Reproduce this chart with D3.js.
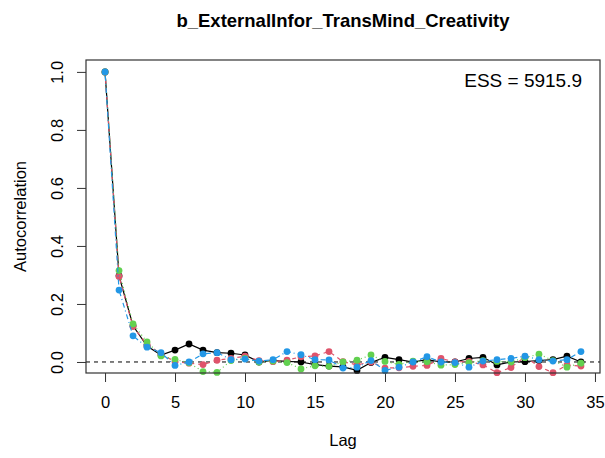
<!DOCTYPE html>
<html>
<head>
<meta charset="utf-8">
<script src="https://cdn.jsdelivr.net/npm/d3@7"></script>
<style>
  body { margin: 0; background: #fff; }
  text { font-family: "Liberation Sans", Arial, sans-serif; fill: #000; }
</style>
</head>
<body>
<div id="chart"></div>
<script>
var svgWidth = 605;
var svgHeight = 458;

var lags = d3.range(0, 35);

var chainBlack = [1, 0.297, 0.125, 0.055, 0.024, 0.041, 0.062, 0.041, 0.032, 0.030, 0.024, 0.000, 0.005, 0.002, 0.000,
  -0.009, -0.014, -0.017, -0.029, -0.002, 0.016, 0.008, 0.000, 0.008, 0.000, 0.000, 0.012, 0.016, -0.010, 0.000,
  0.001, 0.005, 0.008, 0.020, 0.000];
var chainRed = [1, 0.295, 0.122, 0.060, 0.028, 0.001, -0.004, -0.009, 0.006, 0.012, 0.020, 0.005, 0.001, 0.006, 0.018,
  0.021, 0.036, 0.001, -0.010, 0.000, -0.021, -0.020, -0.015, -0.012, 0.012, 0.000, 0.002, -0.010, -0.037, -0.019,
  0.018, -0.016, -0.037, -0.011, -0.014];
var chainGreen = [1, 0.315, 0.131, 0.069, 0.021, 0.009, -0.003, -0.033, -0.036, 0.005, 0.012, 0.000, 0.003, -0.002, -0.024,
  -0.013, -0.015, 0.000, 0.006, 0.024, 0.002, -0.008, 0.003, 0.001, -0.011, -0.009, -0.002, 0.005, 0.002, 0.000,
  0.015, 0.027, 0.005, -0.018, -0.004];
var chainBlue = [1, 0.248, 0.090, 0.051, 0.032, -0.012, 0.000, 0.028, 0.032, 0.008, 0.010, 0.003, 0.008, 0.036, 0.025,
  0.008, 0.007, -0.021, -0.018, 0.005, -0.029, -0.018, 0.000, 0.018, 0.000, -0.002, -0.018, 0.003, 0.008, 0.012,
  0.020, 0.008, 0.003, 0.008, 0.036];

var xTicks = [0, 5, 10, 15, 20, 25, 30, 35];
var yTicks = [0, 0.2, 0.4, 0.6, 0.8, 1.0];

var chains = [
  { values: chainBlack, color: "#000000", dash: null },
  { values: chainRed, color: "#DF536B", dash: "4,4" },
  { values: chainGreen, color: "#61D04F", dash: "1,3" },
  { values: chainBlue, color: "#2297E6", dash: "1,3,5,3" }
];

var box = { left: 86, right: 600, top: 60, bottom: 373 };

var svg = d3.select("#chart")
  .append("svg")
  .attr("width", svgWidth)
  .attr("height", svgHeight);

var x = d3.scaleLinear()
  .domain([-1.36, 35.36])
  .range([box.left, box.right]);

var y = d3.scaleLinear()
  .domain([-0.038, 1.041])
  .range([box.bottom, box.top]);

// axes, R style: ticks outside the box
svg.append("g")
  .attr("transform", `translate(0, ${box.bottom})`)
  .call(d3.axisBottom(x).tickValues(xTicks).tickSize(9).tickPadding(14).tickFormat(d3.format("d")))
  .call(g => g.select(".domain").remove())
  .call(g => g.selectAll("text").attr("font-size", "16.5px").attr("font-family", "Liberation Sans, Arial, sans-serif"));

var yAxis = svg.append("g")
  .attr("transform", `translate(${box.left}, 0)`)
  .call(d3.axisLeft(y).tickValues(yTicks).tickSize(9).tickFormat(d3.format(".1f")))
  .call(g => g.select(".domain").remove());

yAxis.selectAll("text")
  .attr("font-size", "16.5px")
  .attr("font-family", "Liberation Sans, Arial, sans-serif")
  .attr("x", null).attr("dy", null)
  .attr("text-anchor", "middle")
  .attr("transform", "translate(-23, 0) rotate(-90)");

svg.selectAll(".tick line").attr("stroke", "#333");

// zero reference line
svg.append("line")
  .attr("x1", box.left).attr("x2", box.right)
  .attr("y1", y(0)).attr("y2", y(0))
  .attr("stroke", "#000")
  .attr("stroke-dasharray", "4,4");

var line = d3.line()
  .x((d, i) => x(lags[i]))
  .y(d => y(d));

chains.forEach(function(c) {
  var g = svg.append("g");
  g.append("path")
    .datum(c.values)
    .attr("d", line)
    .attr("fill", "none")
    .attr("stroke", c.color)
    .attr("stroke-width", 1.2)
    .attr("stroke-dasharray", c.dash);
  g.selectAll("circle")
    .data(c.values)
    .enter()
    .append("circle")
    .attr("cx", (d, i) => x(lags[i]))
    .attr("cy", d => y(d))
    .attr("r", 3.4)
    .attr("fill", c.color);
});

// plot box
svg.append("rect")
  .attr("x", box.left).attr("y", box.top)
  .attr("width", box.right - box.left)
  .attr("height", box.bottom - box.top)
  .attr("fill", "none")
  .attr("stroke", "#333")
  .attr("stroke-width", 1.2);

svg.append("text")
  .attr("x", (box.left + box.right) / 2)
  .attr("y", 27)
  .attr("text-anchor", "middle")
  .attr("font-size", "18.5px")
  .attr("font-weight", "bold")
  .text("b_ExternalInfor_TransMind_Creativity");

svg.append("text")
  .attr("x", 582)
  .attr("y", 87)
  .attr("text-anchor", "end")
  .attr("font-size", "19px")
  .text("ESS = 5915.9");

svg.append("text")
  .attr("x", (box.left + box.right) / 2)
  .attr("y", 446)
  .attr("text-anchor", "middle")
  .attr("font-size", "16.5px")
  .text("Lag");

svg.append("text")
  .attr("transform", `translate(26, ${(box.top + box.bottom) / 2}) rotate(-90)`)
  .attr("text-anchor", "middle")
  .attr("font-size", "16.5px")
  .text("Autocorrelation");
</script>
</body>
</html>
